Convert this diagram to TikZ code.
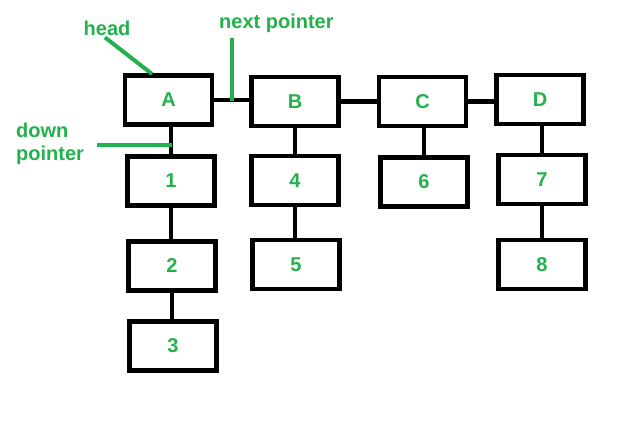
\documentclass[tikz,border=0pt]{standalone}
\usepackage{fontspec}
\setmainfont{Liberation Sans}
\usetikzlibrary{calc}
\definecolor{paintgreen}{RGB}{34,177,76}

\begin{document}
\begin{tikzpicture}[
    x=1pt, y=-1pt,
    cell/.style={
        draw=black,
        line width=4.7pt,
        minimum width=87pt,
        minimum height=49pt,
        inner sep=0pt,
        text=paintgreen,
        font=\fontsize{20}{24}\selectfont\bfseries
    },
    link/.style={draw=black, line width=4.7pt},
    note/.style={
        text=paintgreen,
        inner sep=0pt,
        align=left,
        font=\fontsize{20}{23}\selectfont\bfseries
    },
    pointer/.style={draw=paintgreen, line width=4pt}
]
    \useasboundingbox (0,0) rectangle (626,423);

    % next list
    \node[cell] (A) at (168.5,100) {A};
    \node[cell] (B) at (295,101.5) {B};
    \node[cell] (C) at (422.5,101.5) {C};
    \node[cell] (D) at (540,99.5) {D};

    % down lists
    \node[cell] (one) at (171,181) {1};
    \node[cell] (two) at (172,266) {2};
    \node[cell] (three) at (173,346) {3};
    \node[cell] (four) at (295,180.5) {4};
    \node[cell] (five) at (296,264.5) {5};
    \node[cell] (six) at (424,182) {6};
    \node[cell] (seven) at (542,179.5) {7};
    \node[cell] (eight) at (542,264.5) {8};

    \draw[link] (A.east) -- (A.east -| B.west);
    \draw[link] (B.east) -- (B.east -| C.west);
    \draw[link] (C.east) -- (C.east -| D.west);

    \draw[link] (one.north) -- (one.north |- A.south);
    \draw[link] (one.south) -- (one.south |- two.north);
    \draw[link] (two.south) -- (two.south |- three.north);
    \draw[link] (four.north) -- (four.north |- B.south);
    \draw[link] (four.south) -- (four.south |- five.north);
    \draw[link] (six.north) -- (six.north |- C.south);
    \draw[link] (seven.north) -- (seven.north |- D.south);
    \draw[link] (seven.south) -- (seven.south |- eight.north);

    % annotations
    \node[note, anchor=base] (head) at (107,35) {head};
    \node[note, anchor=base west] (next) at (219,28) {next pointer};
    \node[note, anchor=north west] (down) at (16,123) {down\\pointer};

    \coordinate (headtip) at (152,74);
    \coordinate (nexttip) at ($(A.east)!0.5!(B.west)$);
    \coordinate (downtip) at (172,145);

    \draw[pointer] ($(head.south)+(-2,2)$) -- (headtip);
    \draw[pointer] (nexttip) -- (nexttip |- 0,38);
    \draw[pointer] (downtip) -- (downtip -| 97,0);
\end{tikzpicture}
\end{document}
